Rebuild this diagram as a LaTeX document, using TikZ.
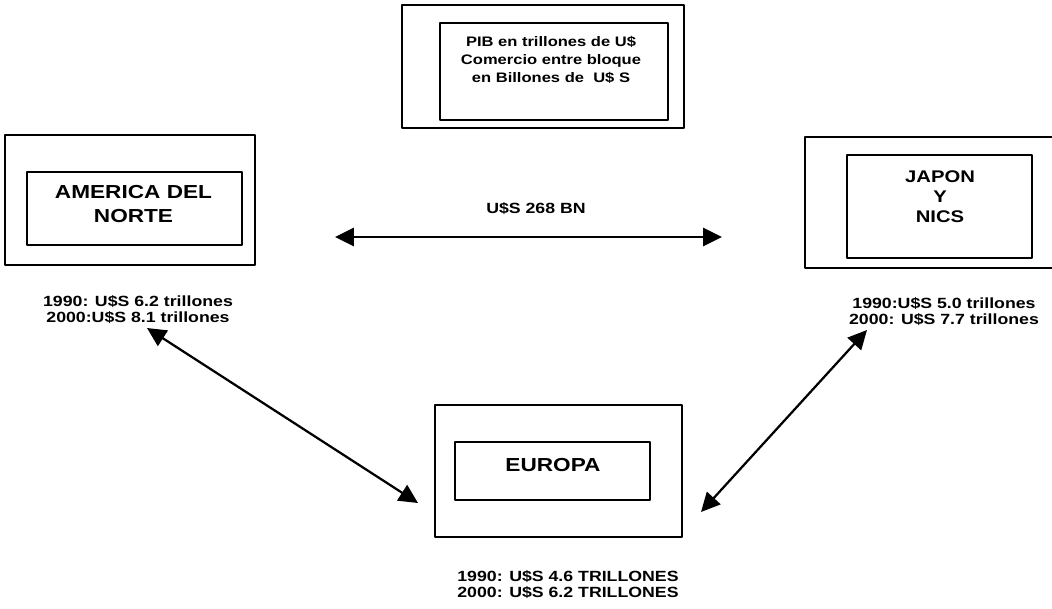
\documentclass[tikz,border=0pt]{standalone}
\usepackage{fontspec}
\setmainfont[FakeStretch=1.2]{Liberation Sans}
\usetikzlibrary{arrows.meta}
\begin{document}
\begin{tikzpicture}[x=0.025cm, y=-0.025cm, line join=round, line cap=round,
	caja/.style={draw, line width=1.3pt, inner sep=0pt},
	titulo/.style={font=\fontsize{13.4}{16.4}\selectfont\bfseries, align=center},
	dato/.style={font=\fontsize{10.5}{11.4}\selectfont\bfseries, align=center},
	flujo/.style={line width=1.6pt, {Triangle[length=13.5pt,width=13pt]}-{Triangle[length=13.5pt,width=13pt]}}]
				\def\px{0.025cm}
				\useasboundingbox (0,0) rectangle (1052,608);
				
				% leyenda
				\node[caja, minimum width=282*\px, minimum height=123*\px] (leyOut) at (543,66.5) {};
				\node[caja, minimum width=228*\px, minimum height=97*\px] (leyIn) at (554,71.5) {};
				\node[font=\fontsize{9.8}{12.8}\selectfont\bfseries, align=center] (leyTxt) at (551,60)
					{PIB en trillones de U\$\\Comercio entre bloque\\en Billones de~~U\$ S};
				
				% bloques
				\node[caja, minimum width=250*\px, minimum height=130*\px] (naOut) at (130,200) {};
				\node[caja, minimum width=215*\px, minimum height=73*\px] (naIn) at (134.5,208.5) {};
				\node[titulo] (naTxt) at (133.5,204) {AMERICA DEL\\NORTE};
				
				\node[caja, minimum width=255*\px, minimum height=131*\px] (jpOut) at (932.5,202.5) {};
				\node[caja, minimum width=185*\px, minimum height=103*\px] (jpIn) at (939.5,206.5) {};
				\node[titulo, font=\fontsize{12}{14.2}\selectfont\bfseries] (jpTxt) at (940,197) {JAPON\\Y\\NICS};
				
				\node[caja, minimum width=247*\px, minimum height=132*\px] (euOut) at (558.5,471) {};
				\node[caja, minimum width=195*\px, minimum height=58*\px] (euIn) at (552.5,471) {};
				\node[titulo] (euTxt) at (553,465) {EUROPA};
				
				% datos
				\node[dato] (naDato) at (138,310) {1990: U\$S 6.2 trillones\\2000:U\$S 8.1 trillones};
				\node[dato] (jpDato) at (944,312) {1990:U\$S 5.0 trillones\\2000: U\$S 7.7 trillones};
				\node[dato] (euDato) at (568,585) {1990: U\$S 4.6 TRILLONES\\2000: U\$S 6.2 TRILLONES};
				\node[dato] (comercio) at (536,209) {U\$S 268 BN};
				
				% flujos
				\coordinate (naDer) at (335,237);
				\coordinate (jpIzq) at (722,237);
				\coordinate (naAbj) at (147,328);
				\coordinate (euIzq) at (418,503);
				\coordinate (jpAbj) at (867,330);
				\coordinate (euDer) at (701,512);
				\draw[flujo] (naDer) -- (jpIzq);
				\draw[flujo] (naAbj) -- (euIzq);
				\draw[flujo] (jpAbj) -- (euDer);
			\end{tikzpicture}
\end{document}
